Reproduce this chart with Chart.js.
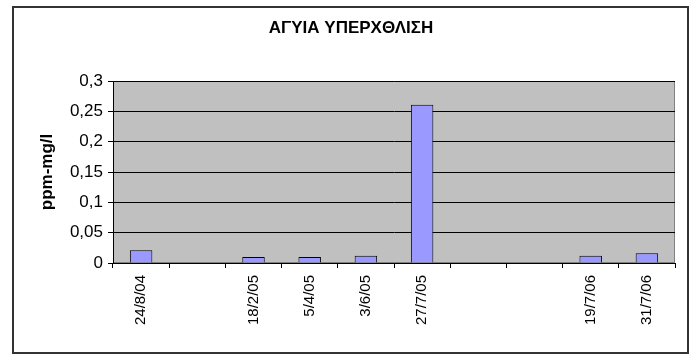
<!DOCTYPE html>
<html>
<head>
<meta charset="utf-8">
<script src="https://cdn.jsdelivr.net/npm/chart.js@4/dist/chart.umd.min.js"></script>
<style>
  html, body { margin: 0; padding: 0; background: #fff; }
  #wrap { width: 695px; height: 356px; }
</style>
</head>
<body>
<div id="wrap"><canvas id="chart" width="695" height="356"></canvas></div>
<script>
(function () {
    "use strict";

    // sampling dates; empty strings are gaps on the axis
    const dates = ["24/8/04", "", "18/2/05", "5/4/05", "3/6/05", "27/7/05", "", "", "19/7/06", "31/7/06"];
    const overflowValues = [0.021, null, 0.01, 0.01, 0.012, 0.261, null, null, 0.012, 0.016];
    const yTickLabels = ["0", "0,05", "0,1", "0,15", "0,2", "0,25", "0,3"];

    const BAR_FILL = "#9999FF";
    const PLOT_BG = "#C0C0C0";
    const FONT = "'Liberation Sans', Arial, sans-serif";

    // grey plot area plus the frame around the whole chart
    const frame = {
        id: "frame",
        beforeDraw(chart) {
            const { ctx, chartArea: a } = chart;
            ctx.save();
            ctx.fillStyle = PLOT_BG;
            ctx.fillRect(a.left, a.top, a.right - a.left, a.bottom - a.top);
            ctx.strokeStyle = "#808080";
            ctx.lineWidth = 1;
            ctx.strokeRect(a.left + 0.5, a.top + 0.5, a.right - a.left - 1, a.bottom - a.top - 1);
            ctx.strokeStyle = "#333";
            ctx.lineWidth = 2;
            ctx.strokeRect(13, 7, 675, 346);
            ctx.restore();
        }
    };

    const ctx = document.getElementById("chart").getContext("2d");
    new Chart(ctx, {
        type: "bar",
        data: {
            labels: dates,
            datasets: [{
                data: overflowValues,
                backgroundColor: BAR_FILL,
                borderColor: "#000",
                borderWidth: 1,
                borderSkipped: "bottom",
                categoryPercentage: 1,
                barPercentage: 0.4
            }]
        },
        options: {
            responsive: false,
            animation: false,
            // left/right padding kept equal-ish so the title sits in the middle of the frame
            layout: { padding: { left: 27, right: 20, top: 8, bottom: 0 } },
            plugins: {
                legend: { display: false },
                tooltip: { enabled: false },
                title: {
                    display: true,
                    text: "ΑΓΥΙΑ ΥΠΕΡΧΘΛΙΣΗ",
                    color: "#000",
                    font: { family: FONT, size: 17, weight: "bold" },
                    padding: { top: 10, bottom: 42.6 }
                }
            },
            scales: {
                x: {
                    afterFit(scale) { scale.height = 93; },
                    border: { color: "#000", width: 1 },
                    grid: { offset: true, drawOnChartArea: false, color: "#000", tickLength: 5 },
                    ticks: {
                        autoSkip: false,
                        minRotation: 90,
                        maxRotation: 90,
                        padding: 7,
                        color: "#000",
                        font: { family: FONT, size: 15 }
                    }
                },
                y: {
                    min: 0,
                    max: 0.3,
                    afterFit(scale) { scale.width = 86; },
                    border: { color: "#000", width: 1 },
                    grid: { color: "#000", tickLength: 5 },
                    ticks: {
                        stepSize: 0.05,
                        padding: 5,
                        color: "#000",
                        font: { family: FONT, size: 17 },
                        callback: (v, i) => yTickLabels[i]
                    },
                    title: {
                        display: true,
                        text: "ppm-mg/l",
                        color: "#000",
                        font: { family: FONT, size: 17, weight: "bold" },
                        padding: { top: 10, bottom: 0 }
                    }
                }
            }
        },
        plugins: [frame]
    });
})();
</script>
</body>
</html>
